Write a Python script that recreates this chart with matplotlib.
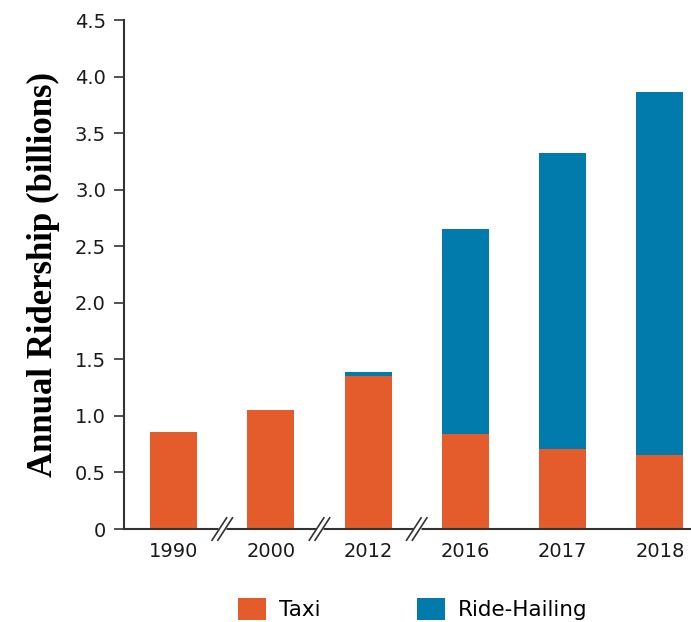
import matplotlib
matplotlib.use("Agg")
import matplotlib.pyplot as plt
import matplotlib.transforms as mtransforms
from matplotlib.patches import Patch

years = ["1990", "2000", "2012", "2016", "2017", "2018"]
taxi = [0.86, 1.05, 1.35, 0.84, 0.71, 0.65]
ride_hailing = [0.0, 0.0, 0.04, 1.81, 2.61, 3.21]
y_ticks = [0, 0.5, 1.0, 1.5, 2.0, 2.5, 3.0, 3.5, 4.0, 4.5]
y_tick_labels = ["0", "0.5", "1.0", "1.5", "2.0", "2.5", "3.0", "3.5", "4.0", "4.5"]

TAXI_COLOR = "#E45C2C"
RIDE_COLOR = "#007BAC"
SPINE = "#333333"
tick_font = "DejaVu Sans"

fig = plt.figure(figsize=(6.91, 6.22), dpi=100)
ax = fig.add_axes([0.1795, 0.1495, 0.819, 0.8183])

x = list(range(len(years)))
ax.bar(x, taxi, width=0.485, color=TAXI_COLOR, linewidth=0, label="Taxi")
ax.bar(x, ride_hailing, width=0.485, bottom=taxi, color=RIDE_COLOR,
       linewidth=0, label="Ride-Hailing")

ax.set_xlim(-0.51, 5.31)
ax.set_ylim(0, 4.5)
ax.set_yticks(y_ticks)
ax.set_yticklabels(y_tick_labels, fontfamily=tick_font, fontsize=14)
ax.set_xticks(x)
ax.set_xticklabels(years, fontfamily=tick_font, fontsize=14)
ax.tick_params(axis="x", length=0, pad=9, colors="#1a1a1a")
ax.tick_params(axis="y", length=7, width=1.2, color=SPINE, pad=6, labelcolor="#1a1a1a")

for side in ("top", "right"):
    ax.spines[side].set_visible(False)
for side in ("left", "bottom"):
    ax.spines[side].set_color(SPINE)
    ax.spines[side].set_linewidth(1.5)

ax.set_ylabel("Annual Ridership (billions)", fontfamily="Liberation Serif",
              fontweight="bold", fontsize=25, labelpad=11)

# axis break marks between the non-consecutive years
trans = mtransforms.blended_transform_factory(ax.transData, ax.transAxes)
for xb in (0.5, 1.5, 2.5):
    ax.plot([xb - 0.04, xb + 0.04], [0, 0], color="white", lw=5,
            transform=trans, clip_on=False, zorder=4, solid_capstyle="butt")
    for dx in (-0.03, 0.03):
        ax.plot([xb + dx - 0.075, xb + dx + 0.075], [-0.022, 0.022],
                color=SPINE, lw=1.2, transform=trans, clip_on=False, zorder=5)

handles = [Patch(facecolor=TAXI_COLOR, label="Taxi"),
           Patch(facecolor=RIDE_COLOR, label="Ride-Hailing")]
fig.legend(handles=handles, loc="center", bbox_to_anchor=(0.597, 0.021), ncol=2,
           frameon=False, handlelength=1.3, handleheight=1.25, handletextpad=0.6,
           columnspacing=4.5, prop={"family": tick_font, "size": 15.5})

fig.savefig("out.png", dpi=100)
